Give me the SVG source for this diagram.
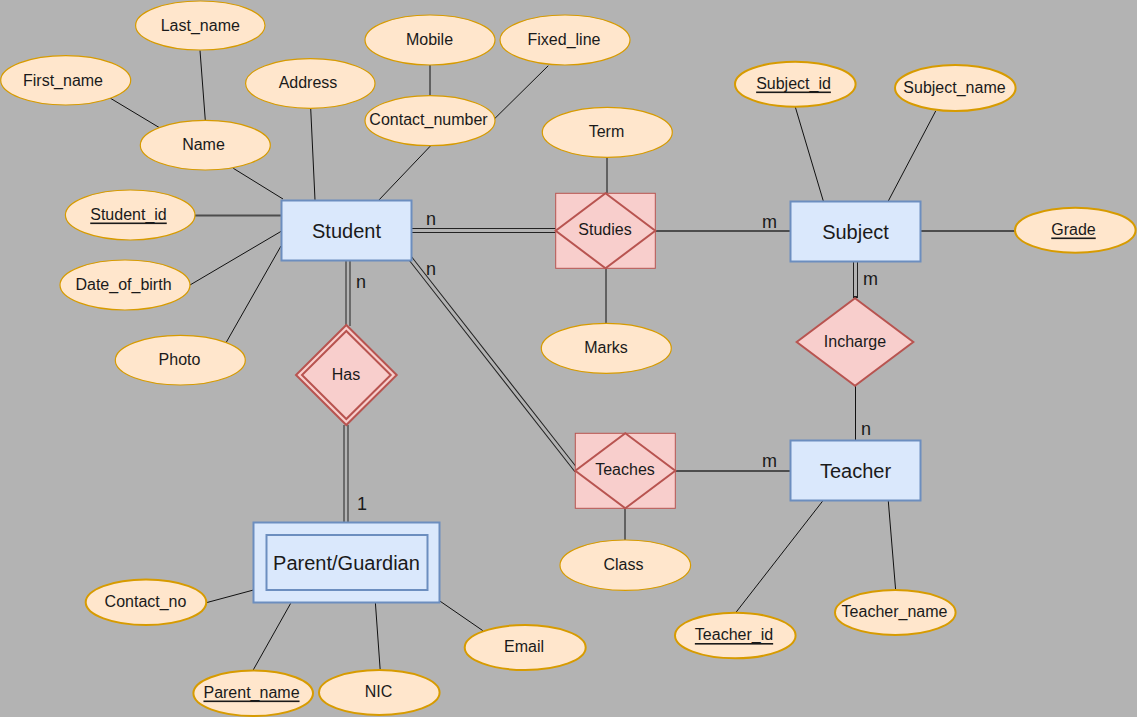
<svg xmlns="http://www.w3.org/2000/svg" width="1137" height="717" viewBox="0 0 1137 717">
<style>
.bg{fill:#b3b3b3}
.ent{fill:#dae8fc;stroke:#6c8ebf;stroke-width:2}
.rel{fill:#f8cecc;stroke:#b85450;stroke-width:2}
.relbox{fill:#f8cecc;stroke:#b85450;stroke-width:1}
.att{fill:#ffe6cc;stroke:#d79b00;stroke-width:1.2}
.attk{fill:#ffe6cc;stroke:#d79b00;stroke-width:2}
text{font-family:"Liberation Sans",Arial,sans-serif;fill:#1a1a1a;text-anchor:middle;dominant-baseline:central}
.t16{font-size:16px}
.t20{font-size:20px}
.card{font-size:18px;text-anchor:start;dominant-baseline:auto}
.u{text-decoration:underline}
.ln{stroke:#111;stroke-width:1;fill:none}
.lg{stroke:#4d4d4d;stroke-width:2;fill:none}
.dbo{stroke:#222;stroke-width:5;fill:none}
.dbi{stroke:#b3b3b3;stroke-width:3;fill:none}
</style>
<rect class="bg" x="0" y="0" width="1137" height="717"/>

<g id="connectors">
<line class="ln" x1="110" y1="98" x2="160" y2="128"/>
<line class="ln" x1="200" y1="50.5" x2="205.3" y2="120.3"/>
<line class="ln" x1="233.3" y1="168.3" x2="283" y2="199"/>
<line class="ln" x1="310.7" y1="108.3" x2="315" y2="200"/>
<line class="ln" x1="430.7" y1="145.7" x2="378.3" y2="200.7"/>
<line class="ln" x1="430" y1="65" x2="430" y2="95.7"/>
<line class="ln" x1="548.3" y1="65.7" x2="495" y2="118.3"/>
<line class="ln" x1="607" y1="157.3" x2="607" y2="193"/>
<line class="lg" x1="195" y1="215.5" x2="281" y2="215.5"/>
<line class="ln" x1="190" y1="285" x2="281.7" y2="231"/>
<line class="ln" x1="225.7" y1="343.3" x2="281" y2="246"/>
<line class="ln" x1="606" y1="268" x2="606" y2="323.3"/>
<line class="ln" x1="795" y1="106" x2="823.3" y2="201"/>
<line class="ln" x1="935.7" y1="111" x2="888.3" y2="201"/>
<line class="lg" x1="920.7" y1="231" x2="1015" y2="231"/>
<line class="lg" x1="655" y1="231" x2="790.5" y2="231"/>
<line class="dbo" x1="855.5" y1="261" x2="855.5" y2="298"/>
<line class="dbi" x1="855.5" y1="262" x2="855.5" y2="296"/>
<line class="ln" x1="855.5" y1="385.7" x2="855.5" y2="440.5"/>
<line class="lg" x1="675" y1="471" x2="790.5" y2="471"/>
<line class="ln" x1="625" y1="508" x2="625" y2="540"/>
<line class="ln" x1="822.7" y1="501" x2="735.7" y2="612.7"/>
<line class="ln" x1="888.3" y1="501" x2="895.7" y2="590.7"/>
<line class="dbo" x1="411.5" y1="230.5" x2="556" y2="230.5"/>
<line class="dbi" x1="410.5" y1="230.5" x2="557" y2="230.5"/>
<line class="dbo" x1="410" y1="258" x2="576.5" y2="470.5"/>
<line class="dbi" x1="409" y1="256.8" x2="577.5" y2="471.8"/>
<line class="dbo" x1="348" y1="261" x2="348" y2="326"/>
<line class="dbi" x1="348" y1="260" x2="348" y2="327"/>
<line class="dbo" x1="346" y1="425" x2="346" y2="523"/>
<line class="dbi" x1="346" y1="424" x2="346" y2="524"/>
<line class="ln" x1="206.3" y1="602.7" x2="253.5" y2="590"/>
<line class="ln" x1="252.8" y1="670.7" x2="290.7" y2="603.3"/>
<line class="ln" x1="380.2" y1="670" x2="375.4" y2="603"/>
<line class="ln" x1="482.9" y1="630.7" x2="439.8" y2="601"/>
<text class="card" x="426" y="225">n</text>
<text class="card" x="426" y="275">n</text>
<text class="card" x="356" y="288">n</text>
<text class="card" x="357" y="510">1</text>
<text class="card" x="762" y="228">m</text>
<text class="card" x="863" y="285">m</text>
<text class="card" x="861" y="435">n</text>
<text class="card" x="762" y="467">m</text>
</g>

<g id="student"><rect class="ent" x="281.5" y="200.5" width="130" height="60"/><text class="t20" x="346.5" y="230.5">Student</text></g>
<g id="subject"><rect class="ent" x="790.5" y="201.5" width="130" height="60"/><text class="t20" x="855.5" y="231.5">Subject</text></g>
<g id="teacher"><rect class="ent" x="790.5" y="440.5" width="130" height="60"/><text class="t20" x="855.5" y="470.5">Teacher</text></g>
<g id="parent"><rect class="ent" x="253.5" y="522.5" width="186" height="80"/><rect class="ent" x="266.5" y="535" width="161" height="55"/><text class="t20" x="346.5" y="562.5">Parent/Guardian</text></g>

<g id="studies"><rect class="relbox" x="555.7" y="193.3" width="99.6" height="75"/><polygon class="rel" points="605.5,193.3 655.3,230.8 605.5,268.3 555.7,230.8"/><text class="t16" x="605" y="229">Studies</text></g>
<g id="teaches"><rect class="relbox" x="575.3" y="433.3" width="100" height="75"/><polygon class="rel" points="625.3,433.3 675.3,470.8 625.3,508.3 575.3,470.8"/><text class="t16" x="625" y="469">Teaches</text></g>
<g id="has"><polygon class="rel" points="346.3,325 396.7,375 346.3,425 296,375"/><polygon class="rel" points="346.3,331 390.7,375 346.3,419 302,375"/><text class="t16" x="346" y="374">Has</text></g>
<g id="incharge"><polygon class="rel" points="855,298.3 913.3,342 855,385.7 796.7,342"/><text class="t16" x="855" y="341">Incharge</text></g>

<g id="last_name"><ellipse class="att" cx="200.3" cy="25.5" rx="64.7" ry="24.5"/><text class="t16" x="200.3" y="25">Last_name</text></g>
<g id="first_name"><ellipse class="att" cx="65.7" cy="80.3" rx="65" ry="24.7"/><text class="t16" x="63" y="80">First_name</text></g>
<g id="address"><ellipse class="att" cx="310.3" cy="83.5" rx="64.7" ry="24.8"/><text class="t16" x="308" y="82.5">Address</text></g>
<g id="name"><ellipse class="att" cx="205.3" cy="145.2" rx="65" ry="24.8"/><text class="t16" x="203.5" y="144.5">Name</text></g>
<g id="mobile"><ellipse class="att" cx="430" cy="40" rx="65" ry="25"/><text class="t16" x="429.5" y="39.5">Mobile</text></g>
<g id="fixed_line"><ellipse class="att" cx="565" cy="40" rx="65" ry="25"/><text class="t16" x="564" y="39.5">Fixed_line</text></g>
<g id="contact_number"><ellipse class="att" cx="430" cy="120.7" rx="65" ry="25"/><text class="t16" x="428.5" y="119.5">Contact_number</text></g>
<g id="term"><ellipse class="att" cx="607.3" cy="132.3" rx="65" ry="25"/><text class="t16" x="606.5" y="131.5">Term</text></g>
<g id="student_id"><ellipse class="att" cx="130.2" cy="215" rx="64.8" ry="25"/><text class="t16 u" x="128.5" y="214">Student_id</text></g>
<g id="date_of_birth"><ellipse class="att" cx="125" cy="285" rx="65" ry="25"/><text class="t16" x="123.5" y="284">Date_of_birth</text></g>
<g id="photo"><ellipse class="att" cx="180.3" cy="360.2" rx="65" ry="24.8"/><text class="t16" x="179.5" y="359">Photo</text></g>
<g id="marks"><ellipse class="att" cx="606.3" cy="348.3" rx="65" ry="25"/><text class="t16" x="606" y="347.5">Marks</text></g>
<g id="class"><ellipse class="att" cx="625.3" cy="565.2" rx="65.3" ry="25.2"/><text class="t16" x="623.5" y="564.5">Class</text></g>
<g id="subject_id"><ellipse class="attk" cx="795.3" cy="84.2" rx="60.3" ry="22.5"/><text class="t16 u" x="793.5" y="83">Subject_id</text></g>
<g id="subject_name"><ellipse class="attk" cx="955.3" cy="88" rx="60.3" ry="23"/><text class="t16" x="954.5" y="87">Subject_name</text></g>
<g id="grade"><ellipse class="attk" cx="1075.3" cy="230.2" rx="60.3" ry="22.5"/><text class="t16 u" x="1073.5" y="229">Grade</text></g>
<g id="teacher_id"><ellipse class="attk" cx="735.3" cy="635.5" rx="60.3" ry="22.8"/><text class="t16 u" x="734" y="634.5">Teacher_id</text></g>
<g id="teacher_name"><ellipse class="attk" cx="895.3" cy="612.5" rx="60.3" ry="22.5"/><text class="t16" x="894.5" y="611.5">Teacher_name</text></g>
<g id="contact_no"><ellipse class="attk" cx="146" cy="602.2" rx="60.3" ry="22.8"/><text class="t16" x="145.5" y="601.5">Contact_no</text></g>
<g id="parent_name"><ellipse class="attk" cx="253.2" cy="693.3" rx="59.8" ry="22.7"/><text class="t16 u" x="251.5" y="692">Parent_name</text></g>
<g id="nic"><ellipse class="attk" cx="379.3" cy="692.5" rx="60.3" ry="22.5"/><text class="t16" x="378.5" y="691.5">NIC</text></g>
<g id="email"><ellipse class="attk" cx="525.2" cy="647.5" rx="60.5" ry="22.5"/><text class="t16" x="524" y="646.5">Email</text></g>
</svg>
